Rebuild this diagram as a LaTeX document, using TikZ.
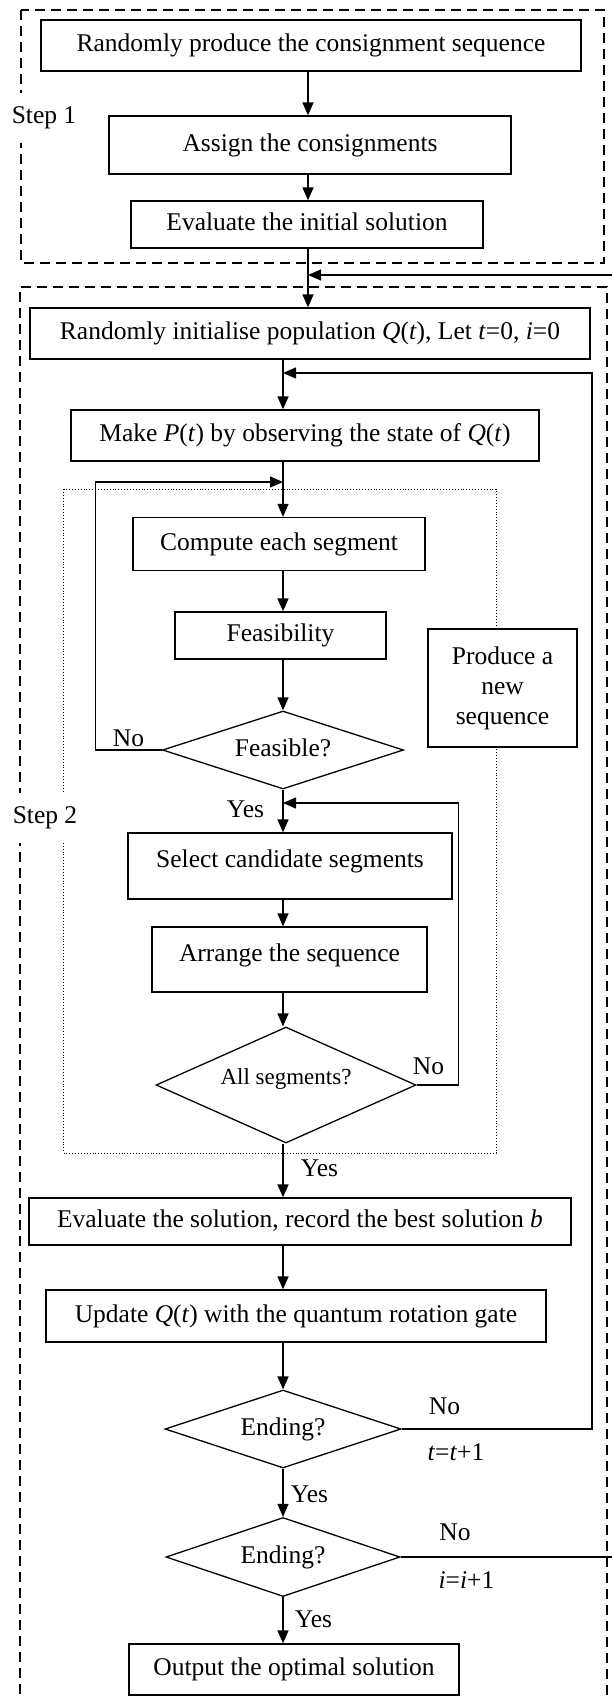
\documentclass[tikz,border=0pt]{standalone}
\usepackage{fontspec}
\setmainfont{Liberation Serif}
\usetikzlibrary{shapes.geometric,arrows.meta}

\begin{document}
\begin{tikzpicture}[x=1pt, y=-1pt,
  every node/.style={font=\fontsize{25.5}{30}\selectfont},
  blk/.style={draw, line width=1.3pt, fill=white, inner sep=0pt, text height=18pt, text depth=6pt},
  dec/.style={draw, diamond, aspect=3, line width=1.3pt, fill=white, inner sep=0pt, text height=18pt, text depth=6pt},
  lbl/.style={inner sep=1pt},
  steplbl/.style={fill=white, inner xsep=1pt, inner ysep=14pt},
  arr/.style={line width=1.3pt, -{Triangle[length=13pt,width=11pt]}},
  stepbox/.style={dash pattern=on 10pt off 6pt, line width=1.2pt},
  innerbox/.style={dotted, line width=0.9pt}]

\useasboundingbox (0,0) rectangle (611,1697);

\draw[stepbox] (21,10) rectangle (604,263);
\draw[stepbox] (20,1710) -- (20,287) -- (607,287) -- (607,1710);
\draw[innerbox] (63.5,489) rectangle (496,1153);

\node[steplbl] (s1) at (44,118) {Step 1};
\node[steplbl] (s2) at (45,818) {Step 2};

\coordinate (top) at (308,0);
\coordinate (spine) at (283,0);

\node[blk, minimum width=540pt, minimum height=51pt] (prod) at (311,45.5) {Randomly produce the consignment sequence};
\node[blk, minimum width=402pt, minimum height=58pt] (assign) at (310,145) {Assign the consignments};
\node[blk, minimum width=352pt, minimum height=47pt] (evalinit) at (307,224.5) {Evaluate the initial solution};
\node[blk, minimum width=560pt, minimum height=51pt] (init) at (310,333.5) {Randomly initialise population \textit{Q}(\textit{t}), Let \textit{t}=0, \textit{i}=0};
\node[blk, minimum width=468pt, minimum height=51pt] (make) at (305,435.5) {Make \textit{P}(\textit{t}) by observing the state of \textit{Q}(\textit{t})};
\node[blk, minimum width=292pt, minimum height=53pt] (compute) at (279,544) {Compute each segment};
\node[blk, minimum width=211pt, minimum height=47pt] (feas) at (280.5,635.5) {Feasibility};
\node[dec, minimum width=241pt, minimum height=78pt] (feasq) at (283,750) {Feasible?};
\node[draw, line width=1.3pt, fill=white, align=center, minimum width=149pt, minimum height=118pt] (produce) at (502.5,688) {Produce a\\new\\sequence};
\node[blk, text depth=15pt, minimum width=324pt, minimum height=66pt] (select) at (290,866) {Select candidate segments};
\node[blk, text depth=15pt, minimum width=275pt, minimum height=65pt] (arrange) at (289.5,959.5) {Arrange the sequence};
\node[dec, text depth=20pt, font=\fontsize{23}{28}\selectfont, minimum width=260pt, minimum height=116pt] (allseg) at (286,1085) {All segments?};
\node[blk, minimum width=542pt, minimum height=47pt] (evalsol) at (300,1221.5) {Evaluate the solution, record the best solution \textit{b}};
\node[blk, minimum width=500pt, minimum height=52pt] (update) at (296,1316) {Update \textit{Q}(\textit{t}) with the quantum rotation gate};
\node[dec, minimum width=236pt, minimum height=78pt] (end1) at (283,1429) {Ending?};
\node[dec, minimum width=234pt, minimum height=79pt] (end2) at (283,1557) {Ending?};
\node[blk, minimum width=330pt, minimum height=51pt] (output) at (294,1669.5) {Output the optimal solution};

\node[lbl] (nof) at (128.5,738) {No};
\node[lbl] (yesf) at (245.5,809) {Yes};
\node[lbl] (noa) at (428.5,1066) {No};
\node[lbl] (yesa) at (319.5,1168) {Yes};
\node[lbl] (noe1) at (444.5,1406) {No};
\node[lbl] (tinc) at (456,1452) {\textit{t}=\textit{t}+1};
\node[lbl] (yese1) at (309.5,1494) {Yes};
\node[lbl] (noe2) at (455,1532) {No};
\node[lbl] (iinc) at (466.5,1580) {\textit{i}=\textit{i}+1};
\node[lbl] (yese2) at (313.5,1619) {Yes};

\coordinate (ijoin) at (308,275);
\coordinate (icorner) at (613,275);
\coordinate (tjoin) at (283,373);
\coordinate (tcorner) at (592,373);
\coordinate (fjoin) at (283,482);
\coordinate (fcorner) at (95.5,482);
\coordinate (ajoin) at (283,803);
\coordinate (acorner) at (458.5,803);

\draw[arr] (prod.south -| top) -- (assign.north -| top);
\draw[arr] (assign.south -| top) -- (evalinit.north -| top);
\draw[arr] (evalinit.south -| top) -- (init.north -| top);
\draw[arr] (init.south -| spine) -- (make.north -| spine);
\draw[arr] (make.south -| spine) -- (compute.north -| spine);
\draw[arr] (compute.south -| spine) -- (feas.north -| spine);
\draw[arr] (feas.south -| spine) -- (feasq.north);
\draw[arr] (feasq.south) -- (select.north -| spine);
\draw[arr] (select.south -| spine) -- (arrange.north -| spine);
\draw[arr] (arrange.south -| spine) -- (allseg.north -| spine);
\draw[arr] (allseg.south -| spine) -- (evalsol.north -| spine);
\draw[arr] (evalsol.south -| spine) -- (update.north -| spine);
\draw[arr] (update.south -| spine) -- (end1.north);
\draw[arr] (end1.south) -- (end2.north);
\draw[arr] (end2.south) -- (output.north -| spine);

\draw[arr] (feasq.west) -| (fcorner) -- (fjoin);
\draw[arr] (allseg.east) -| (acorner) -- (ajoin);
\draw[arr] (end1.east) -| (tcorner) -- (tjoin);
\draw[arr] (end2.east) -| (icorner) -- (ijoin);
\end{tikzpicture}
\end{document}
